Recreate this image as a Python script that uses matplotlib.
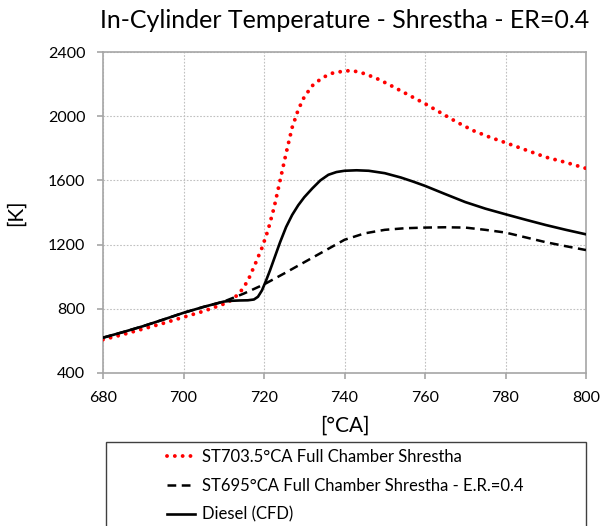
import matplotlib
matplotlib.use("Agg")
import matplotlib.pyplot as plt
from matplotlib.patches import Rectangle

plt.rcParams['font.family'] = ['Lato', 'DejaVu Sans']

# ST703.5 full chamber (red dotted)
red_ca = [680, 685, 690, 695, 700, 705, 710, 712, 714, 716, 718, 719.5, 721, 722.5,
          724, 725.5, 727, 728.5, 730, 732, 734.5, 737, 740, 742, 745, 748, 751, 754,
          757, 760, 764, 768, 772, 776, 780, 785, 790, 795, 800]
red_t = [608, 640, 675, 710, 748, 785, 830, 855, 900, 975, 1090, 1180, 1290, 1430,
         1600, 1770, 1930, 2040, 2120, 2190, 2240, 2268, 2282, 2284, 2265, 2235, 2198, 2158,
         2118, 2078, 2020, 1962, 1910, 1870, 1835, 1790, 1745, 1712, 1675]

# ST695 full chamber E.R.=0.4 (black dashed)
dash_ca = [680, 685, 690, 695, 700, 705, 710, 715, 720, 725, 730, 735, 740, 745,
           750, 755, 760, 765, 770, 775, 780, 785, 790, 795, 800]
dash_t = [620, 655, 692, 733, 775, 812, 845, 895, 952, 1020, 1090, 1160, 1230, 1270,
          1292, 1302, 1306, 1308, 1306, 1292, 1275, 1245, 1215, 1190, 1166]

# Diesel CFD (black solid)
cfd_ca = [680, 685, 690, 695, 700, 705, 710, 712, 714, 716, 717.5, 718.5, 719.5, 720.5,
          721.5, 722.5, 724, 725.5, 727, 728.5, 730, 732, 734, 736, 738, 740, 743, 746,
          750, 754, 757, 760, 765, 770, 775, 780, 785, 790, 795, 800]
cfd_t = [620, 655, 692, 733, 775, 812, 845, 850, 852, 853, 858, 875, 915, 975,
         1040, 1110, 1215, 1310, 1385, 1445, 1495, 1550, 1600, 1635, 1652, 1660, 1663, 1660,
         1645, 1618, 1593, 1566, 1515, 1465, 1424, 1389, 1355, 1322, 1292, 1264]

labels = ["ST703.5°CA Full Chamber Shrestha",
          "ST695°CA Full Chamber Shrestha - E.R.=0.4",
          "Diesel (CFD)"]

W, H = 603, 526
fig = plt.figure(figsize=(W / 100, H / 100), dpi=100)
ax = fig.add_axes([103 / W, 1 - 373 / H, 483 / W, 321 / H])

l1, = ax.plot(red_ca, red_t, color='#ff0000', lw=2.8, linestyle=(0, (0.01, 2.0)),
              dash_capstyle='round', zorder=3)
l2, = ax.plot(dash_ca, dash_t, color='black', lw=1.8, linestyle=(0, (3.5, 2.2)), zorder=3)
l3, = ax.plot(cfd_ca, cfd_t, color='black', lw=1.9, zorder=4)

ax.set_xlim(680, 800)
ax.set_ylim(400, 2400)
ax.set_xticks(range(680, 801, 20))
ax.set_yticks(range(400, 2401, 400))
ax.grid(True, color='#c0c0c0', linestyle=(0, (1.5, 1.5)), lw=0.8)
for s in ax.spines.values():
    s.set_color('#a6a6a6')
    s.set_linewidth(1.2)
ax.tick_params(colors='#a6a6a6', labelcolor='black', labelsize=11.5, length=4.3, width=1.2)
ax.tick_params(axis='y', pad=8.5)
ax.tick_params(axis='x', pad=9)
ax.set_xlabel("[°CA]", fontsize=15, labelpad=7)
ax.set_ylabel("[K]", fontsize=15, labelpad=16)
fig.text(345 / W, 1 - 28 / H, "In-Cylinder Temperature - Shrestha - ER=0.4", fontsize=18,
         ha='center', va='baseline')

fig.patches.append(Rectangle((106 / W, -0.05), 480 / W, 1 - 442 / H + 0.05,
                             transform=fig.transFigure, fill=False, edgecolor='#404040',
                             lw=1.0))
fig.legend([l1, l2, l3], labels, loc='upper left', bbox_to_anchor=(167 / W, 1 - 449 / H),
           frameon=False, fontsize=12, handlelength=1.68, handletextpad=0.42,
           labelspacing=0.76, borderaxespad=0, borderpad=0)

fig.savefig("out.png", dpi=100)
